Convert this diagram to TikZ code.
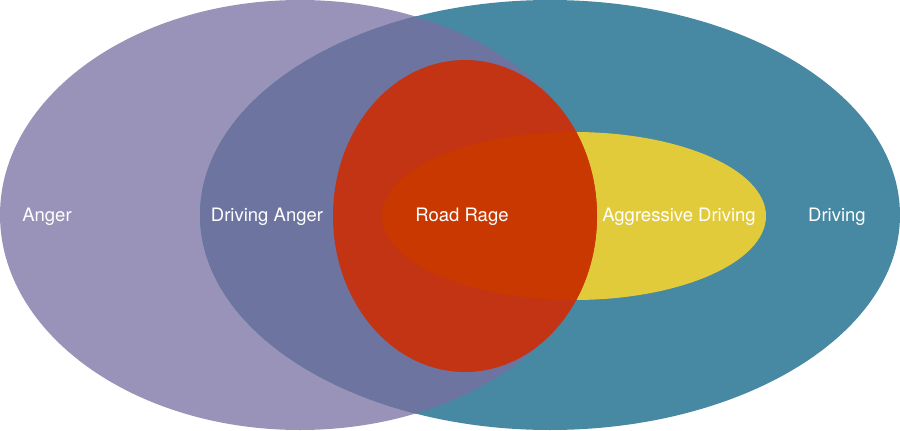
\documentclass[tikz,border=0pt]{standalone}
\usepackage{fontspec}
\setmainfont{TeX Gyre Heros}
\usepackage{tikz}
\usepackage{xcolor}
\definecolor{angerpurple}{HTML}{9A93B9}
\definecolor{drivingteal}{HTML}{4788A2}
\definecolor{overlapslate}{HTML}{6D74A0}
\definecolor{rageRed}{HTML}{C23414}
\definecolor{aggrYellow}{HTML}{E2CB3A}
\definecolor{rageOrange}{HTML}{C93800}

\begin{document}
\begin{tikzpicture}[x=1pt,y=-1pt]
  \useasboundingbox (0,0) rectangle (900,431);
  \fill[angerpurple] (300,215) ellipse (300pt and 215pt);
  \fill[drivingteal] (550,215) ellipse (350pt and 215pt);
  \begin{scope}
    \clip (300,215) ellipse (300pt and 215pt);
    \fill[overlapslate] (550,215) ellipse (350pt and 215pt);
  \end{scope}
  \fill[aggrYellow] (574,216) ellipse (192pt and 84pt);
  \fill[rageRed] (465,216) ellipse (132pt and 156pt);
  \begin{scope}
    \clip (465,216) ellipse (132pt and 156pt);
    \fill[rageOrange] (574,216) ellipse (192pt and 84pt);
  \end{scope}
  \foreach \n/\x/\t in {anger/47/Anger,dang/267/Driving Anger,rage/462/Road Rage,aggr/679/Aggressive Driving,driv/837/Driving}
    \node[text=white,font=\fontsize{18.5}{20}\selectfont] (l\n) at (\x,216.5) {\t};
\end{tikzpicture}
\end{document}
